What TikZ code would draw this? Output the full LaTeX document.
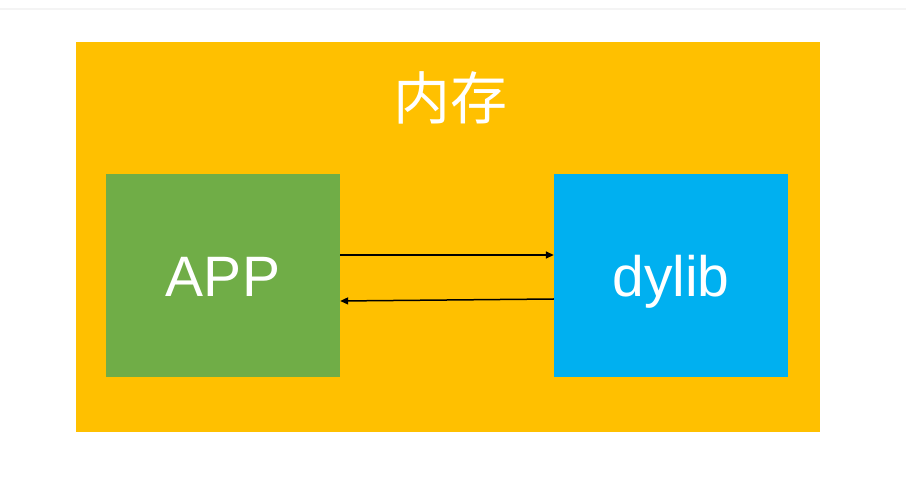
\documentclass[tikz,border=0pt]{standalone}
\usepackage{fontspec}
\setmainfont{Liberation Sans}
\newfontfamily\cjk{Noto Sans CJK SC}
\usetikzlibrary{arrows.meta}
\definecolor{memorange}{HTML}{FFC000}
\definecolor{appgreen}{HTML}{70AD47}
\definecolor{libblue}{HTML}{00B0F0}
\definecolor{topgrey}{HTML}{F4F4F4}
\begin{document}
\begin{tikzpicture}[x=1pt,y=-1pt, box/.style={inner sep=0pt, text=white, font=\fontsize{57}{66}\selectfont}]
\useasboundingbox[fill=white] (0,0) rectangle (906,494);
\draw[topgrey, line width=2] (0,9) -- (906,9);
%memory
\fill[memorange] (76,42) rectangle (820,432);
\node[box, font=\cjk\fontsize{57}{66}\selectfont] (mem) at (450,98) {内存};
%app and dylib
\node[box, fill=appgreen, minimum width=234, minimum height=203, text height=50, text depth=7] (app) at (223,275.5) {APP};
\node[box, fill=libblue, minimum width=234, minimum height=203, text height=50, text depth=7] (lib) at (671,275.5) {dylib};
\coordinate (a1) at (app.east |- 0,255);
\coordinate (l1) at (lib.west |- 0,255);
\coordinate (a2) at (app.east |- 0,301);
\coordinate (l2) at (lib.west |- 0,299);
\draw[-{Triangle[length=8,width=7]}, line width=1.5] (a1) -- (l1);
\draw[-{Triangle[length=8,width=7]}, line width=1.5] (l2) -- (a2);
\end{tikzpicture}
\end{document}
